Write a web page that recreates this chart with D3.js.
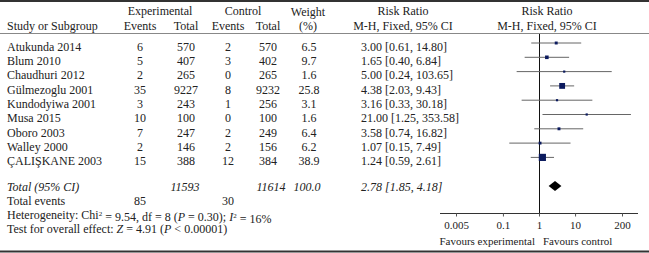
<!DOCTYPE html>
<html><head><meta charset="utf-8">
<script src="https://cdn.jsdelivr.net/npm/d3@7"></script>
<style>
html,body{margin:0;padding:0;background:#fff;}
svg text{font-family:"Liberation Serif","DejaVu Serif",serif;font-size:12px;fill:#222;}
svg text.ax{font-size:11px;}
</style></head>
<body><svg id="c" width="649" height="253"></svg>
<script>
const studies = ["Atukunda 2014","Blum 2010","Chaudhuri 2012","Gülmezoglu 2001","Kundodyiwa 2001","Musa 2015","Oboro 2003","Walley 2000","ÇALIŞKANE 2003"];
const expEvents = [6,5,2,35,3,10,7,2,15];
const expTotal = [570,407,265,9227,243,100,247,146,388];
const ctrlEvents = [2,3,0,8,1,0,2,2,12];
const ctrlTotal = [570,402,265,9232,256,100,249,156,384];
const weights = [6.5,9.7,1.6,25.8,3.1,1.6,6.4,6.2,38.9];
const rr = [3.00,1.65,5.00,4.38,3.16,21.00,3.58,1.07,1.24];
const lower = [0.61,0.40,0.24,2.03,0.33,1.25,0.74,0.15,0.59];
const upper = [14.80,6.84,103.65,9.43,30.18,353.58,16.82,7.49,2.61];
const totalRR = [2.78,1.85,4.18];
const totals = {exp:11593, ctrl:11614, weight:"100.0", expEvents:85, ctrlEvents:30};
const tickValues = [0.005,0.1,1,10,200];
const tickLabels = ["0.005","0.1","1","10","200"];

const svg = d3.select("#c");
const fmt2 = d3.format(".2f");

// rules
svg.append("line").attr("x1",0).attr("x2",649).attr("y1",1).attr("y2",1).attr("stroke","#333").attr("stroke-width",2);
svg.append("line").attr("x1",0).attr("x2",649).attr("y1",33.5).attr("y2",33.5).attr("stroke","#888").attr("stroke-width",1);
svg.append("line").attr("x1",0).attr("x2",649).attr("y1",251.5).attr("y2",251.5).attr("stroke","#333").attr("stroke-width",2);

function txt(x,y,s,anchor,opts){
  const t = svg.append("text").attr("x",x).attr("y",y).attr("dy","0.35em").attr("text-anchor",anchor||"start").text(s);
  if(opts&&opts.italic) t.style("font-style","italic");
  if(opts&&opts.cls) t.attr("class",opts.cls);
  return t;
}
// headers
txt(7,25.5,"Study or Subgroup");
txt(160,11,"Experimental","middle");
txt(243,11,"Control","middle");
txt(140,25.5,"Events","middle");
txt(186,25.5,"Total","middle");
txt(228,25.5,"Events","middle");
txt(268,25.5,"Total","middle");
txt(308,12,"Weight","middle");
txt(308,25.5,"(%)","middle");
txt(403,11,"Risk Ratio","middle");
txt(403,25.5,"M-H, Fixed, 95% CI","middle");
txt(547,11,"Risk Ratio","middle");
txt(547,25.5,"M-H, Fixed, 95% CI","middle");

const yRow = d3.scaleLinear().domain([0,8]).range([46.5,160.9]);
const x = d3.scaleLog().domain([0.005,200]).range([456,622]);

studies.forEach((s,i)=>{
  const y = yRow(i);
  txt(7,y,s);
  txt(140,y,expEvents[i],"middle");
  txt(186,y,expTotal[i],"middle");
  txt(228,y,ctrlEvents[i],"middle");
  txt(268,y,ctrlTotal[i],"middle");
  txt(309,y,weights[i].toFixed(1),"middle");
  txt(361,y,`${fmt2(rr[i])} [${fmt2(lower[i])}, ${fmt2(upper[i])}]`);
});

// total rows
const yTot = 186.5;
txt(7,yTot,"Total (95% CI)","start",{italic:true});
txt(185,yTot,totals.exp,"middle",{italic:true});
txt(271,yTot,totals.ctrl,"middle",{italic:true});
txt(307,yTot,totals.weight,"middle",{italic:true});
txt(361,yTot,`${fmt2(totalRR[0])} [${fmt2(totalRR[1])}, ${fmt2(totalRR[2])}]`,"start",{italic:true});
txt(7,200.5,"Total events");
txt(140,200.5,totals.expEvents,"middle");
txt(228,200.5,totals.ctrlEvents,"middle");
const het = svg.append("text").attr("x",7).attr("y",214.5).attr("dy","0.35em");
het.append("tspan").text("Heterogeneity: Chi");
het.append("tspan").text("2").attr("dy","-0.4em").style("font-size","7px");
het.append("tspan").text(" = 9.54, df = 8 (").attr("dy","0.4em");
het.append("tspan").text("P").style("font-style","italic");
het.append("tspan").text(" = 0.30); ");
het.append("tspan").text("I").style("font-style","italic");
het.append("tspan").text("2").attr("dy","-0.4em").style("font-size","7px");
het.append("tspan").text(" = 16%").attr("dy","0.4em");
const tst = svg.append("text").attr("x",7).attr("y",228.5).attr("dy","0.35em");
tst.append("tspan").text("Test for overall effect: ");
tst.append("tspan").text("Z").style("font-style","italic");
tst.append("tspan").text(" = 4.91 (");
tst.append("tspan").text("P").style("font-style","italic");
tst.append("tspan").text(" < 0.00001)");

// plot
const axisY = 213.5;
svg.append("line").attr("x1",x(1)+0.5).attr("x2",x(1)+0.5).attr("y1",34).attr("y2",axisY).attr("stroke","#111").attr("stroke-width",1);
svg.append("line").attr("x1",440).attr("x2",638).attr("y1",axisY).attr("y2",axisY).attr("stroke","#333").attr("stroke-width",1);
const ax = d3.axisBottom(x).tickValues(tickValues).tickFormat((d,i)=>tickLabels[i]).tickSize(3).tickSizeOuter(0);
const g = svg.append("g").attr("transform",`translate(0,${axisY})`).call(ax);
g.select(".domain").remove();
g.selectAll(".tick line").attr("stroke","#555");
g.selectAll(".tick text").attr("font-family",null).attr("font-size",null).attr("class","ax").attr("y",8).attr("dy","0.71em").style("fill","#222");
txt(535,241,"Favours experimental","end",{cls:"ax"});
txt(543,241,"Favours control","start",{cls:"ax"});

studies.forEach((s,i)=>{
  const y = yRow(i) - 3.5;
  svg.append("line").attr("x1",x(lower[i])).attr("x2",x(upper[i])).attr("y1",y).attr("y2",y).attr("stroke","#666").attr("stroke-width",1);
  const side = Math.max(2.2, 1.15*Math.sqrt(weights[i]));
  svg.append("rect").attr("x",x(rr[i])-side/2).attr("y",y-side/2).attr("width",side).attr("height",side).attr("fill","#0b1a5e");
});
const dy = yTot - 0.5;
svg.append("path").attr("d",`M${x(totalRR[1])},${dy} L${x(totalRR[0])},${dy-5} L${x(totalRR[2])},${dy} L${x(totalRR[0])},${dy+5} Z`).attr("fill","#000");
</script></body></html>
